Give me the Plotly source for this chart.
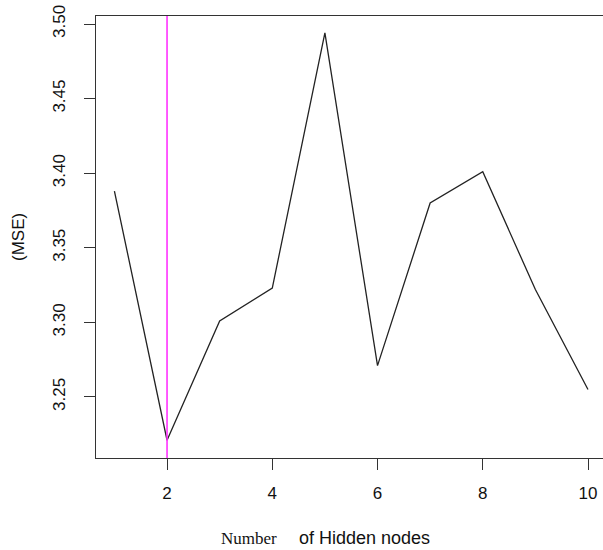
import plotly.graph_objects as go

hidden_nodes = [1, 2, 3, 4, 5, 6, 7, 8, 9, 10]
mse = [3.388, 3.221, 3.301, 3.323, 3.494, 3.271, 3.380, 3.401, 3.322, 3.255]
best_nodes = 2
y_ticks = [3.25, 3.30, 3.35, 3.40, 3.45, 3.50]
x_ticks = [2, 4, 6, 8, 10]

W, H = 603, 550
L, R, T, B = 96, 0, 16, 92
plot_w = W - L - R
plot_h = H - T - B

fig = go.Figure()
fig.add_trace(go.Scatter(x=hidden_nodes, y=mse, mode="lines",
                         line=dict(color="#222222", width=1.3),
                         showlegend=False, hoverinfo="x+y"))
fig.add_shape(type="line", x0=best_nodes, x1=best_nodes, y0=0, y1=1,
              xref="x", yref="y domain",
              line=dict(color="#ff33ff", width=1.6))

sans = "Liberation Sans, Arial, sans-serif"
title_y = (H - B - 538) / plot_h
fig.update_layout(
    width=W, height=H,
    margin=dict(l=L, r=R, t=T, b=B, pad=0, autoexpand=False),
    paper_bgcolor="white", plot_bgcolor="white",
    font=dict(family=sans, size=17, color="#111111"),
    xaxis=dict(range=[0.650, 10.285], tickvals=x_ticks, ticktext=[str(v) for v in x_ticks],
               automargin=False, ticklabeloverflow="allow",
               showgrid=False, zeroline=False, showline=True, mirror=True,
               linecolor="#333333", linewidth=1.3, ticks="outside", ticklen=11,
               tickwidth=1.3, tickcolor="#333333", ticklabelstandoff=8),
    yaxis=dict(range=[3.2091, 3.50536], tickvals=y_ticks, ticktext=[f"{v:.2f}" for v in y_ticks],
               automargin=False, ticklabeloverflow="allow",
               tickangle=-90, showgrid=False, zeroline=False, showline=True, mirror=False,
               linecolor="#333333", linewidth=1.3, ticks="outside", ticklen=11,
               tickwidth=1.3, tickcolor="#333333", ticklabelstandoff=12),
    annotations=[
        dict(text="Number", x=(249 - L) / plot_w, y=title_y, xref="paper", yref="paper",
             showarrow=False, xanchor="center", yanchor="middle",
             font=dict(family="Liberation Serif, Times New Roman, serif", size=17, color="#111111")),
        dict(text="of Hidden nodes", x=(364 - L) / plot_w, y=title_y, xref="paper", yref="paper",
             showarrow=False, xanchor="center", yanchor="middle",
             font=dict(family=sans, size=18, color="#111111")),
        dict(text="(MSE)", x=(18 - L) / plot_w, y=0.5, xref="paper", yref="paper",
             showarrow=False, xanchor="center", yanchor="middle", textangle=-90,
             font=dict(family=sans, size=17, color="#111111")),
    ],
)

fig.write_html(
    "out.html",
    config={"displayModeBar": False},
    post_script="document.body.style.margin='0';document.body.style.overflow='hidden';",
)
